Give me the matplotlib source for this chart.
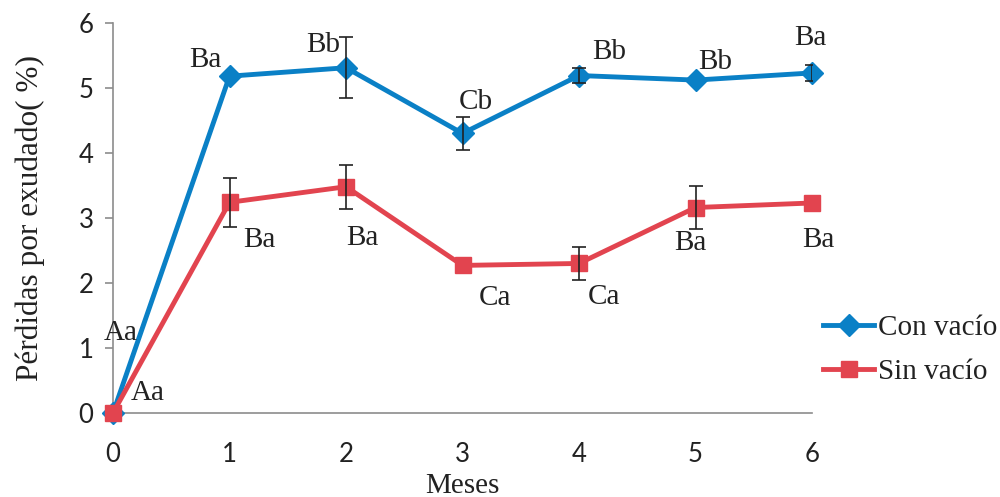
import matplotlib.pyplot as plt
from matplotlib.lines import Line2D

# data
meses = [0, 1, 2, 3, 4, 5, 6]
con_vacio = [0, 5.18, 5.31, 4.30, 5.19, 5.12, 5.23]
con_err = [0, 0, 0.47, 0.25, 0.12, 0, 0.12]
sin_vacio = [0, 3.24, 3.48, 2.27, 2.30, 3.16, 3.23]
sin_err = [0, 0.38, 0.34, 0, 0.25, 0.33, 0]
con_letras = ["Aa", "Ba", "Bb", "Cb", "Bb", "Bb", "Ba"]
sin_letras = ["Aa", "Ba", "Ba", "Ca", "Ca", "Ba", "Ba"]

# label offsets in pixels
con_off = [(8, 80), (-24, 16), (-23, 23), (13, 31), (30, 24), (20, 18), (-2, 35)]
sin_off = [(35, 20), (30, -38), (16, -51), (32, -33), (25, -34), (-5, -35), (6, -37)]

azul = "#0a80c6"
rojo = "#e2444f"
gris = "#8c8c8c"
texto = "#222222"
serif = "Liberation Serif"

fig = plt.figure(figsize=(10, 4.97), dpi=100)
ax = fig.add_axes([0.113, 0.169, 0.699, 0.785])

for y, err, col, mk, ms in [(con_vacio, con_err, azul, "D", 11),
                            (sin_vacio, sin_err, rojo, "s", 12)]:
    ax.plot(meses, y, color=col, lw=3.5, marker=mk, markersize=ms,
            clip_on=False, zorder=3)
    # only where there is an error bar
    xs = [meses[i] for i in range(len(meses)) if err[i] > 0]
    ys = [y[i] for i in range(len(meses)) if err[i] > 0]
    es = [e for e in err if e > 0]
    ax.errorbar(xs, ys, yerr=es, fmt="none", ecolor=texto,
                elinewidth=1.2, capsize=5, capthick=1.2, zorder=4)

for i in range(len(meses)):
    ax.annotate(con_letras[i], (meses[i], con_vacio[i]), xytext=con_off[i],
                textcoords="offset pixels", ha="center", va="center",
                family=serif, fontsize=21, color=texto)
    ax.annotate(sin_letras[i], (meses[i], sin_vacio[i]), xytext=sin_off[i],
                textcoords="offset pixels", ha="center", va="center",
                family=serif, fontsize=21, color=texto)

ax.set_xlim(0, 6)
ax.set_ylim(0, 6)
ax.set_xticks(meses)
ax.set_yticks(range(7))
for s in ["top", "right"]:
    ax.spines[s].set_visible(False)
for s in ["left", "bottom"]:
    ax.spines[s].set_color(gris)
    ax.spines[s].set_linewidth(1.2)
ax.tick_params(axis="y", length=6, color=gris, width=1.2, pad=8)
ax.tick_params(axis="x", length=0, pad=21)
for lab in ax.get_xticklabels() + ax.get_yticklabels():
    lab.set_family("Lato")
    lab.set_fontsize(18.5)
    lab.set_color(texto)

ax.set_xlabel("Meses", family=serif, fontsize=21, color=texto, labelpad=4)
ax.set_ylabel("Pérdidas por exudado( %)", family=serif, fontsize=22.5,
              color=texto, labelpad=24)

handles = [Line2D([], [], color=azul, lw=3.5, marker="D", markersize=11),
           Line2D([], [], color=rojo, lw=3.5, marker="s", markersize=12)]
leg = fig.legend(handles, ["Con vacío", "Sin vacío"], loc="center left",
                 bbox_to_anchor=(0.823, 0.296), frameon=False,
                 prop={"family": serif, "size": 21}, handlelength=1.75,
                 handletextpad=0.15, labelspacing=0.62, borderpad=0,
                 borderaxespad=0)
for t in leg.get_texts():
    t.set_color(texto)

fig.savefig("out.png", dpi=100)
